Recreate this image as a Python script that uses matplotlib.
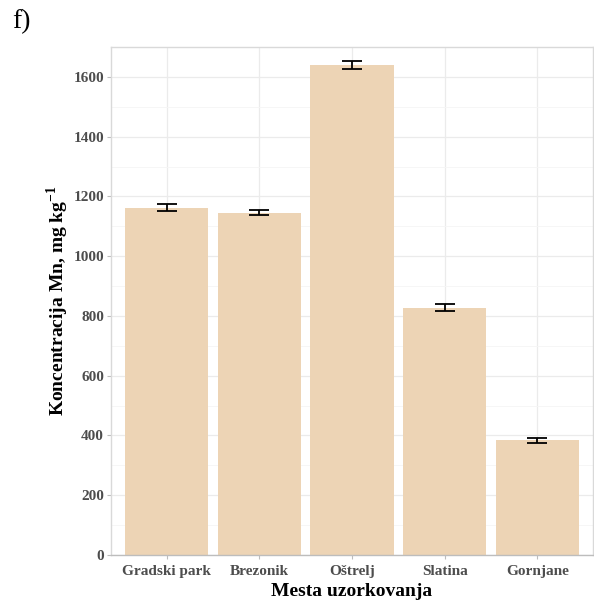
import matplotlib
matplotlib.use("Agg")
import matplotlib.pyplot as plt
from matplotlib.ticker import MultipleLocator

categories = ["Gradski park", "Brezonik", "Oštrelj", "Slatina", "Gornjane"]
values = [1162, 1145, 1640, 828, 384]
errors = [12, 8, 13, 12, 8]
yticks = [0, 200, 400, 600, 800, 1000, 1200, 1400, 1600]

plt.rcParams['font.family'] = ['Liberation Serif', 'DejaVu Serif']
plt.rcParams['mathtext.fontset'] = 'custom'
plt.rcParams['mathtext.bf'] = 'Liberation Serif:bold'
plt.rcParams['mathtext.rm'] = 'Liberation Serif'

fig = plt.figure(figsize=(5.94, 6.05), dpi=100)
ax = fig.add_axes([111/594, 1-555/605, (593-111)/594, (555-47)/605])

x = list(range(len(categories)))
ax.bar(x, values, width=0.9, color='#EDD4B5', zorder=2)
ax.errorbar(x, values, yerr=errors, fmt='none', ecolor='black', elinewidth=1.3,
            capsize=7.5, capthick=1.3, zorder=3)

ax.set_xlim(-0.6, len(categories) - 0.4)
ax.set_ylim(0, 1700)
ax.set_yticks(yticks)
ax.yaxis.set_minor_locator(MultipleLocator(100))
ax.set_xticks(x)
ax.set_xticklabels(categories)

ax.grid(which='major', color='#EBEBEB', linewidth=0.9, zorder=0)
ax.grid(which='minor', axis='y', color='#F5F5F5', linewidth=0.6, zorder=0)
ax.set_axisbelow(True)
for s in ax.spines.values():
    s.set_color('#D9D9D9')
    s.set_linewidth(1.0)
ax.spines['bottom'].set_color('#BDBDBD')

ax.tick_params(axis='both', which='major', length=3, color='#BDBDBD', labelcolor='#4D4D4D',
               labelsize=11)
ax.tick_params(axis='x', which='major', pad=4)
ax.tick_params(axis='y', which='major', pad=2)
ax.tick_params(axis='y', which='minor', length=0)
for lab in ax.get_xticklabels() + ax.get_yticklabels():
    lab.set_fontweight('bold')

ax.set_xlabel('Mesta uzorkovanja', fontsize=14, fontweight='bold', labelpad=4)
ax.set_ylabel(r'Koncentracija Mn, mg kg$^{\mathbf{-1}}$', fontsize=14, fontweight='bold', labelpad=2)

fig.text(12/594, 1-22/605, 'f)', fontsize=20, ha='left', va='center')

fig.savefig('out.png', dpi=100)
